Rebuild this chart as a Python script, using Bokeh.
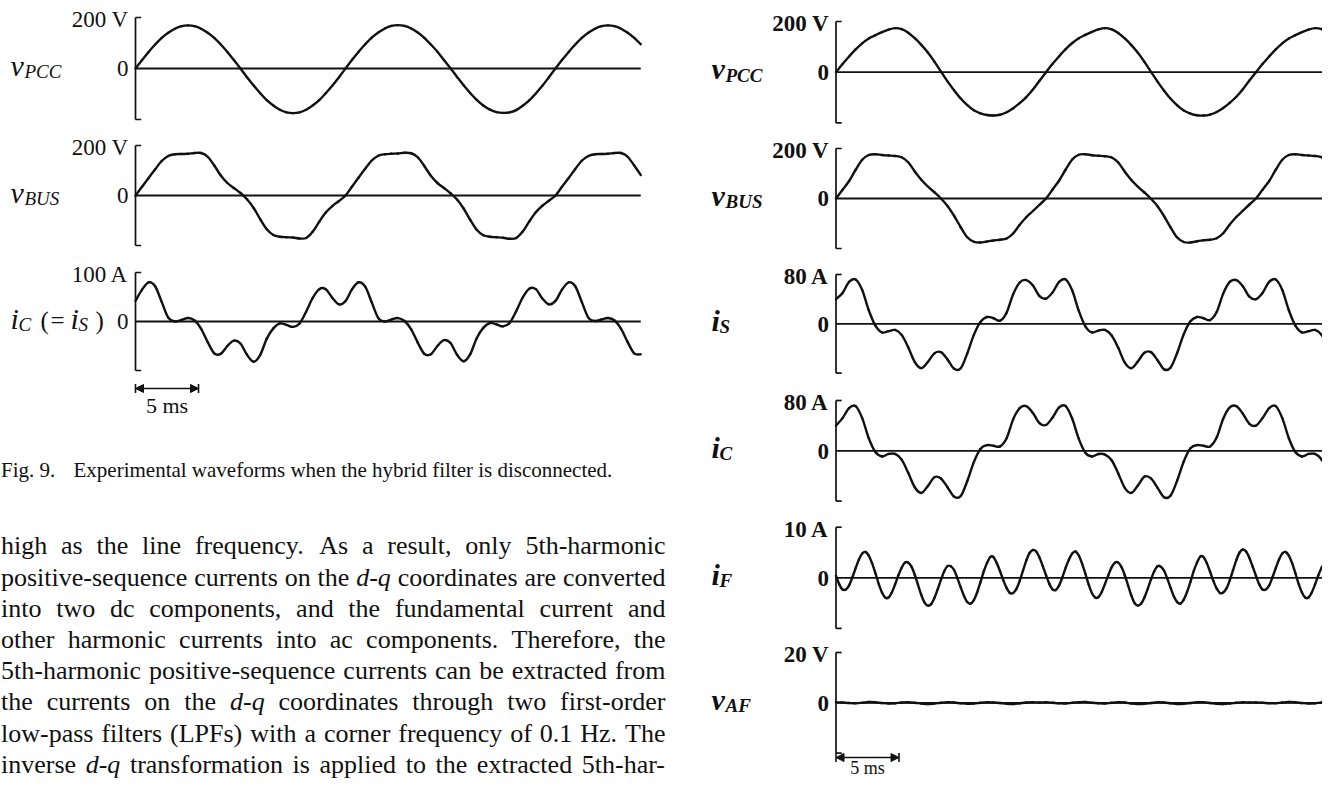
from bokeh.plotting import figure
from bokeh.models import Range1d, Arrow, NormalHead
from bokeh.core.properties import value
from bokeh.embed import file_html
from bokeh.resources import INLINE

# ------------------------------------------------------------------ data
# sample instants in ms (grid used while digitising: 32 samples per 60 Hz cycle)
t_ms = [0.0, 0.52, 1.04, 1.56, 2.08, 2.6, 3.13, 3.65, 4.17, 4.69, 5.21, 5.73, 6.25, 6.77, 7.29, 7.81,
        8.33, 8.85, 9.38, 9.9, 10.42, 10.94, 11.46, 11.98, 12.5, 13.02, 13.54, 14.06, 14.58, 15.1, 15.63, 16.15,
        16.67, 17.19, 17.71, 18.23, 18.75, 19.27, 19.79, 20.31, 20.83, 21.35, 21.88, 22.4, 22.92, 23.44, 23.96, 24.48,
        25.0, 25.52, 26.04, 26.56, 27.08, 27.6, 28.13, 28.65, 29.17, 29.69, 30.21, 30.73, 31.25, 31.77, 32.29, 32.81,
        33.33, 33.85, 34.38, 34.9, 35.42, 35.94, 36.46, 36.98, 37.5, 38.02, 38.54, 39.06, 39.58, 40.1]

# finer grid for the filter current (64 samples per cycle)
t_fine_ms = [0.0, 0.26, 0.52, 0.78, 1.04, 1.3, 1.56, 1.82, 2.08, 2.34, 2.6, 2.86, 3.13, 3.39, 3.65, 3.91,
             4.17, 4.43, 4.69, 4.95, 5.21, 5.47, 5.73, 5.99, 6.25, 6.51, 6.77, 7.03, 7.29, 7.55, 7.81, 8.07,
             8.33, 8.59, 8.85, 9.11, 9.38, 9.64, 9.9, 10.16, 10.42, 10.68, 10.94, 11.2, 11.46, 11.72, 11.98, 12.24,
             12.5, 12.76, 13.02, 13.28, 13.54, 13.8, 14.06, 14.32, 14.58, 14.84, 15.1, 15.36, 15.63, 15.89, 16.15, 16.41,
             16.67, 16.93, 17.19, 17.45, 17.71, 17.97, 18.23, 18.49, 18.75, 19.01, 19.27, 19.53, 19.79, 20.05, 20.31, 20.57,
             20.83, 21.09, 21.35, 21.61, 21.88, 22.14, 22.4, 22.66, 22.92, 23.18, 23.44, 23.7, 23.96, 24.22, 24.48, 24.74,
             25.0, 25.26, 25.52, 25.78, 26.04, 26.3, 26.56, 26.82, 27.08, 27.34, 27.6, 27.86, 28.13, 28.39, 28.65, 28.91,
             29.17, 29.43, 29.69, 29.95, 30.21, 30.47, 30.73, 30.99, 31.25, 31.51, 31.77, 32.03, 32.29, 32.55, 32.81, 33.07,
             33.33, 33.59, 33.85, 34.11, 34.38, 34.64, 34.9, 35.16, 35.42, 35.68, 35.94, 36.2, 36.46, 36.72, 36.98, 37.24,
             37.5, 37.76, 38.02, 38.28, 38.54, 38.8, 39.06, 39.32, 39.58, 39.84, 40.1]

# Fig. 9 (hybrid filter disconnected)
fig9_vpcc = [0, 33, 65, 94, 120, 140, 156, 166, 169, 166, 156, 140, 120, 94, 65, 33,
             0, -34, -67, -97, -124, -145, -162, -172, -175, -172, -162, -145, -124, -97, -67, -34,
             0, 34, 66, 95, 121, 141, 157, 167, 170, 167, 157, 141, 120, 94, 66, 33,
             1, -33, -66, -96, -123, -145, -161, -171, -174, -172, -163, -146, -125, -98, -68, -34,
             0, 33, 65, 94, 120, 140, 156, 166, 169, 166, 156, 140, 120, 95]
fig9_vbus = [0, 35, 70, 105, 138, 158, 165, 166, 167, 170, 170, 155, 120, 80, 50, 30,
             10, -15, -50, -95, -135, -158, -165, -167, -168, -172, -170, -145, -105, -68, -42, -22,
             0, 36, 72, 107, 140, 159, 165, 167, 168, 171, 169, 153, 118, 79, 50, 30,
             9, -16, -52, -97, -137, -159, -165, -167, -169, -173, -170, -144, -104, -67, -41, -21,
             0, 35, 70, 106, 139, 158, 165, 166, 167, 170, 170, 155, 120, 82]
fig9_ic = [42, 65, 80, 72, 40, 8, 0, 3, 7, 2, -15, -42, -65, -66, -50, -39,
           -45, -68, -82, -68, -35, -14, -4, -7, -11, -4, 20, 48, 66, 66, 48, 35,
           42, 66, 80, 71, 39, 7, 0, 4, 7, 1, -16, -43, -66, -67, -50, -38,
           -44, -68, -81, -67, -34, -13, -3, -6, -10, -3, 21, 49, 67, 66, 47, 35,
           42, 65, 80, 72, 40, 8, 1, 4, 7, 2, -15, -42, -65, -67]

# Fig. 10 (hybrid filter connected)
fig10_vpcc = [0, 32, 62, 90, 114, 133, 146, 158, 168, 174, 170, 156, 134, 108, 78, 42,
              2, -36, -72, -104, -130, -150, -162, -169, -171, -168, -158, -142, -122, -98, -68, -34,
              0, 33, 63, 91, 115, 134, 147, 159, 169, 174, 169, 155, 133, 107, 77, 41,
              1, -37, -73, -105, -131, -151, -163, -170, -171, -167, -157, -141, -121, -97, -67, -33,
              0, 32, 62, 90, 114, 133, 146, 158, 168, 174, 170, 156, 134, 108]
fig10_vbus = [0, 35, 70, 115, 155, 174, 177, 174, 172, 170, 165, 145, 108, 75, 48, 25,
              0, -30, -70, -115, -155, -173, -176, -172, -168, -165, -160, -140, -105, -75, -50, -25,
              0, 36, 72, 116, 156, 175, 177, 173, 171, 169, 164, 144, 107, 74, 47, 24,
              -1, -31, -71, -116, -156, -174, -176, -171, -167, -165, -159, -139, -104, -74, -49, -24,
              0, 35, 70, 115, 155, 174, 177, 174, 172, 170, 165, 145, 108, 75]
fig10_is = [40, 50, 68, 72, 55, 22, -3, -14, -12, -10, -18, -38, -62, -72, -62, -48,
            -46, -58, -73, -72, -48, -18, 3, 11, 9, 5, 18, 48, 67, 71, 62, 45,
            41, 51, 68, 72, 54, 21, -4, -14, -11, -10, -19, -39, -63, -72, -61, -47,
            -46, -59, -74, -71, -47, -17, 4, 11, 9, 6, 19, 49, 68, 71, 61, 44,
            40, 50, 68, 72, 55, 22, -3, -14, -12, -10, -18, -38, -62, -72]
fig10_ic = [40, 52, 68, 71, 52, 20, -2, -9, -5, -5, -14, -35, -58, -67, -56, -42,
            -44, -58, -73, -72, -48, -18, 3, 9, 8, 7, 20, 50, 68, 71, 60, 44,
            41, 53, 69, 71, 51, 19, -3, -9, -5, -6, -15, -36, -59, -67, -55, -41,
            -44, -59, -74, -71, -47, -17, 4, 9, 8, 7, 21, 51, 69, 71, 59, 43,
            40, 52, 68, 71, 52, 20, -2, -9, -5, -5, -14, -35, -58, -67]
fig10_if = [0.4, -1.3, -2.3, -2.3, -1.5, 0.1, 1.9, 3.6, 4.8, 5.1, 4.4, 2.9, 0.9, -1.2, -2.9, -3.9,
            -3.9, -2.9, -1.3, 0.5, 2.0, 3.0, 3.0, 2.2, 0.6, -1.4, -3.4, -4.9, -5.5, -5.2, -4.0, -2.3,
            -0.4, 1.3, 2.3, 2.3, 1.5, -0.1, -1.9, -3.6, -4.8, -5.1, -4.4, -2.9, -0.9, 1.2, 2.9, 4.1,
            4.1, 2.9, 1.3, -0.5, -2.0, -3.0, -3.0, -2.2, -0.6, 1.4, 3.4, 4.9, 5.5, 5.2, 4.0, 2.3,
            0.5, -1.2, -2.3, -2.4, -1.5, 0.1, 2.0, 3.6, 4.8, 5.2, 4.4, 2.8, 0.8, -1.3, -3.0, -3.9,
            -3.8, -2.8, -1.2, 0.5, 2.1, 3.0, 3.0, 2.1, 0.5, -1.5, -3.5, -5.0, -5.5, -5.1, -3.9, -2.2,
            -0.3, 1.3, 2.3, 2.2, 1.4, -0.2, -2.0, -3.7, -4.8, -5.1, -4.3, -2.8, -0.8, 1.3, 3.0, 4.2,
            4.1, 2.9, 1.2, -0.6, -2.1, -3.0, -2.9, -2.1, -0.5, 1.5, 3.5, 5.0, 5.6, 5.2, 3.9, 2.2,
            0.4, -1.3, -2.3, -2.3, -1.5, 0.1, 1.9, 3.6, 4.8, 5.1, 4.4, 2.9, 0.9, -1.2, -2.9, -3.9,
            -3.9, -2.9, -1.3, 0.5, 2.0, 3.0, 3.0, 2.2, 0.6, -1.4, -3.4]
fig10_vaf = [0.2, 0.1, -0.1, -0.2, 0.0, 0.3, 0.2, -0.1, -0.3, -0.2, 0.1, 0.2, 0.0, -0.3, -0.5, -0.3,
             0.0, 0.2, 0.1, -0.2, -0.4, -0.3, 0.0, 0.2, 0.1, -0.1, -0.4, -0.5, -0.2, 0.1, 0.2, 0.1,
             0.2, 0.0, -0.2, -0.3, 0.0, 0.2, 0.3, 0.0, -0.2, -0.3, 0.0, 0.2, 0.1, -0.3, -0.5, -0.4,
             -0.1, 0.2, 0.1, -0.2, -0.5, -0.4, -0.1, 0.2, 0.2, -0.1, -0.4, -0.5, -0.3, 0.0, 0.2, 0.1,
             0.1, 0.0, -0.2, -0.2, 0.1, 0.3, 0.2, -0.1, -0.3, -0.2, 0.1, 0.2, 0.0, -0.2]

fig9_full_scale = [200, 200, 100]
fig9_scale_labels = ["200 V", "200 V", "100 A"]
fig10_full_scale = [200, 200, 80, 80, 10, 20]
fig10_scale_labels = ["200 V", "200 V", "80 A", "80 A", "10 A", "20 V"]
time_bar_ms = 5
time_bar_label = "5 ms"

caption_number = "Fig. 9."
caption_text = "Experimental waveforms when the hybrid filter is disconnected."
body_lines = [
    "high as the line frequency. As a result, only 5th-harmonic",
    "positive-sequence currents on the _d-q_ coordinates are converted",
    "into two dc components, and the fundamental current and",
    "other harmonic currents into ac components. Therefore, the",
    "5th-harmonic positive-sequence currents can be extracted from",
    "the currents on the _d-q_ coordinates through two first-order",
    "low-pass filters (LPFs) with a corner frequency of 0.1 Hz. The",
    "inverse _d-q_ transformation is applied to the extracted 5th-har-",
]

# ------------------------------------------------------------------ page geometry
W, H = 1322, 779
SERIF = "Liberation Serif"
PX_PER_MS = 63 / 5.0
INK = "#111111"
STUB_MS = 0.45


def base(y, size):
    """y for a text whose alphabetic baseline must sit at page pixel y (renderer offset compensated)."""
    return y - 0.31 * size


p = figure(width=W, height=H, x_range=Range1d(0, W), y_range=Range1d(H, 0),
           x_axis_type=None, y_axis_type=None, output_backend="svg", toolbar_location=None,
           min_border=0, outline_line_color=None,
           background_fill_color="white", border_fill_color="white")

AXIS_X = {"fig9": 135.0, "fig10": 835.5}
p.extra_x_ranges = {k: Range1d(-ax / PX_PER_MS, (W - ax) / PX_PER_MS) for k, ax in AXIS_X.items()}

# panel layout: (figure, top px, zero px, series, times, full scale, scale label, name pieces, label x)
panels = [
    ("fig9", 17, 68, fig9_vpcc, t_ms, fig9_full_scale[0], fig9_scale_labels[0],
     [("v", "main", 0), ("PCC", "sub", 14)], 10),
    ("fig9", 145, 195, fig9_vbus, t_ms, fig9_full_scale[1], fig9_scale_labels[1],
     [("v", "main", 0), ("BUS", "sub", 14)], 10),
    ("fig9", 272, 321, fig9_ic, t_ms, fig9_full_scale[2], fig9_scale_labels[2],
     [("i", "main", 0), ("C", "sub", 8), ("(", "up", 30), ("=", "up", 40), ("i", "main", 60),
      ("S", "sub", 68), (")", "up", 85)], 10),
    ("fig10", 21, 71.7, fig10_vpcc, t_ms, fig10_full_scale[0], fig10_scale_labels[0],
     [("v", "main", 0), ("PCC", "sub", 14)], 711),
    ("fig10", 148, 198, fig10_vbus, t_ms, fig10_full_scale[1], fig10_scale_labels[1],
     [("v", "main", 0), ("BUS", "sub", 14)], 711),
    ("fig10", 274, 323.3, fig10_is, t_ms, fig10_full_scale[2], fig10_scale_labels[2],
     [("i", "main", 0), ("S", "sub", 8)], 711),
    ("fig10", 400, 450.3, fig10_ic, t_ms, fig10_full_scale[3], fig10_scale_labels[3],
     [("i", "main", 0), ("C", "sub", 8)], 711),
    ("fig10", 526.7, 577.3, fig10_if, t_fine_ms, fig10_full_scale[4], fig10_scale_labels[4],
     [("i", "main", 0), ("F", "sub", 8)], 711),
    ("fig10", 652, 702.3, fig10_vaf, t_ms, fig10_full_scale[5], fig10_scale_labels[5],
     [("v", "main", 0), ("AF", "sub", 14)], 711),
]


def smooth_segments(ts, ys):
    """Cubic Bezier pieces passing through every digitised sample (Catmull-Rom tangents)."""
    n = len(ts)
    out = {k: [] for k in ("x0", "y0", "x1", "y1", "cx0", "cy0", "cx1", "cy1")}
    for i in range(n - 1):
        a, b = max(i - 1, 0), min(i + 2, n - 1)
        out["x0"].append(ts[i]); out["y0"].append(ys[i])
        out["x1"].append(ts[i + 1]); out["y1"].append(ys[i + 1])
        out["cx0"].append(ts[i] + (ts[i + 1] - ts[a]) / 6.0)
        out["cy0"].append(ys[i] + (ys[i + 1] - ys[a]) / 6.0)
        out["cx1"].append(ts[i + 1] - (ts[b] - ts[i]) / 6.0)
        out["cy1"].append(ys[i + 1] - (ys[b] - ys[i]) / 6.0)
    return out


for i, (fig, top, zero, ys, ts, fs, slabel, pieces, lx) in enumerate(panels):
    s = fs / (zero - top)
    rname = "%s_%d" % (fig, i)
    p.extra_y_ranges[rname] = Range1d((zero - H) * s, zero * s)
    kw = dict(x_range_name=fig, y_range_name=rname)
    # bracket-shaped scale
    p.segment(x0=[0, 0, 0], y0=[-fs, fs, -fs], x1=[0, STUB_MS, STUB_MS], y1=[fs, fs, -fs],
              line_color=INK, line_width=1.7, **kw)
    # zero line
    p.line(x=[0, ts[-1]], y=[0, 0], line_color=INK, line_width=1.8, **kw)
    # waveform
    p.bezier(line_color=INK, line_width=2.4, line_cap="round", **smooth_segments(ts, ys), **kw)

    ax = AXIS_X[fig]
    heavy = fig == "fig10"
    tsz = 23
    p.text(x=[ax - 7, ax - 7], y=[base(top + 9.5, tsz), base(zero + 7.5, tsz)], text=[slabel, "0"],
           text_font=value(SERIF), text_font_size="%dpx" % tsz, text_align="right",
           text_baseline="alphabetic", text_color=INK,
           text_font_style="bold" if heavy else "normal")
    for txt, kind, dx in pieces:
        if kind == "main":
            sz, style, yb = 30, "italic", zero + 6
        elif kind == "sub":
            sz, style, yb = 19, "italic", zero + 9
        else:
            sz, style, yb = 25, "normal", zero + 7
        if heavy:
            style = "bold " + style if style != "normal" else "bold"
        p.text(x=[lx + dx], y=[base(yb, sz)], text=[txt], text_font=value(SERIF),
               text_font_size="%dpx" % sz, text_font_style=style, text_align="left",
               text_baseline="alphabetic", text_color=INK)

# 5 ms time bars
for fig, yb, ytxt, tsz in (("fig9", 388, 411.5, 22), ("fig10", 757, 773.5, 18)):
    head = dict(size=8, fill_color=INK, line_color=INK, line_width=1)
    p.add_layout(Arrow(start=NormalHead(**head), end=NormalHead(**head),
                       x_start=0, x_end=time_bar_ms, y_start=yb, y_end=yb,
                       x_range_name=fig, line_color=INK, line_width=1.5))
    p.segment(x0=[0, time_bar_ms], y0=[yb - 4.5] * 2, x1=[0, time_bar_ms], y1=[yb + 4.5] * 2,
              x_range_name=fig, line_color=INK, line_width=1.6)
    p.text(x=[time_bar_ms / 2], y=[base(ytxt, tsz)], text=[time_bar_label], x_range_name=fig,
           text_font=value(SERIF), text_font_size="%dpx" % tsz, text_align="center",
           text_baseline="alphabetic", text_color=INK)

# caption
p.text(x=[0.5, 73], y=[base(476, 21)] * 2, text=[caption_number, caption_text], text_font=value(SERIF),
       text_font_size="21px", text_align="left", text_baseline="alphabetic", text_color=INK)

# justified body text (Times-compatible advance widths, 1/1000 em)
CW = {" ": 250, ",": 250, ".": 250, "-": 333, "(": 333, ")": 333, ":": 278}
for c in "0123456789":
    CW[c] = 500
CW.update(dict(zip("abcdefghijklmnopqrstuvwxyz",
                   [444, 500, 444, 500, 444, 333, 500, 500, 278, 278, 500, 278, 778, 500, 500, 500, 500,
                    333, 389, 278, 500, 500, 722, 500, 500, 444])))
CW.update(dict(zip("ABCDEFGHIJKLMNOPQRSTUVWXYZ",
                   [722, 667, 667, 722, 611, 556, 722, 722, 333, 389, 722, 611, 889, 722, 722, 556, 722,
                    667, 556, 611, 722, 722, 944, 722, 722, 611])))

BODY = 26
X0, X1 = 0.5, 665
rx, ry, rt, ix, iy, it = [], [], [], [], [], []
for i, line in enumerate(body_lines):
    words = line.split(" ")
    clean = [w.strip("_") for w in words]
    widths = [sum(CW.get(c, 500) for c in w) / 1000.0 * BODY for w in clean]
    gap = (X1 - X0 - sum(widths)) / (len(words) - 1)
    x = X0
    yb = base(553.5 + 31.2 * i, BODY)
    for w, c, wd in zip(words, clean, widths):
        if w.startswith("_"):
            ix.append(x); iy.append(yb); it.append(c)
        else:
            rx.append(x); ry.append(yb); rt.append(c)
        x += wd + gap

p.text(x=rx, y=ry, text=rt, text_font=value(SERIF), text_font_size="%dpx" % BODY,
       text_align="left", text_baseline="alphabetic", text_color=INK)
p.text(x=ix, y=iy, text=it, text_font=value(SERIF), text_font_size="%dpx" % BODY,
       text_font_style="italic", text_align="left", text_baseline="alphabetic", text_color=INK)

open("out.html", "w").write(file_html(p, INLINE))
